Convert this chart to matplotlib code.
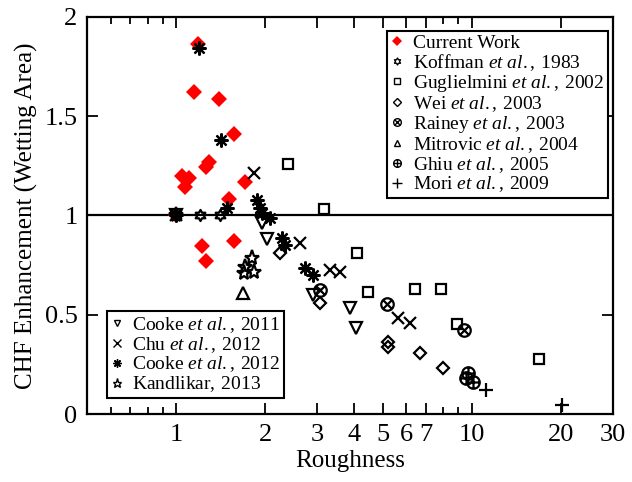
import numpy as np
import matplotlib
matplotlib.use('Agg')
import matplotlib.pyplot as plt
from matplotlib.path import Path
from matplotlib.lines import Line2D
from matplotlib.ticker import FixedLocator, FixedFormatter, NullFormatter

plt.rcParams['font.family'] = 'Liberation Serif'
plt.rcParams['mathtext.fontset'] = 'custom'
plt.rcParams['mathtext.rm'] = 'Liberation Serif'
plt.rcParams['mathtext.it'] = 'Liberation Serif:italic'

# roughness ratio vs. CHF enhancement, normalised by wetted area
current_x = [1.0, 1.187, 1.151, 1.399, 1.573, 1.294, 1.264, 1.048, 1.107, 1.073,
             1.714, 1.512, 1.225, 1.573, 1.264]
current_y = [1.0, 1.864, 1.622, 1.587, 1.411, 1.270, 1.244, 1.199, 1.189, 1.144,
             1.169, 1.083, 0.846, 0.872, 0.771]

koffman_x = [1.0, 1.206, 1.41]
koffman_y = [1.0, 1.003, 1.003]

guglielmini_x = [2.38, 3.17, 4.10, 4.44, 6.41, 7.86, 8.91, 16.9]
guglielmini_y = [1.258, 1.035, 0.811, 0.614, 0.630, 0.630, 0.453, 0.277]

wei_x = [2.235, 3.075, 5.19, 5.19, 6.66, 7.97]
wei_y = [0.811, 0.559, 0.363, 0.338, 0.307, 0.232]

rainey_x = [3.075, 5.15, 9.39]
rainey_y = [0.625, 0.554, 0.423]

mitrovic_x = [1.686]
mitrovic_y = [0.610]

ghiu_x = [9.69, 9.55, 10.08]
ghiu_y = [0.207, 0.181, 0.161]

mori_x = [11.12, 20.2]
mori_y = [0.121, 0.045]

cooke11_x = [1.0, 1.957, 2.034, 2.891, 3.86, 4.05]
cooke11_y = [1.0, 0.962, 0.882, 0.600, 0.534, 0.433]

chu_x = [1.0, 1.839, 2.63, 3.30, 3.57, 5.62, 6.16]
chu_y = [1.0, 1.214, 0.861, 0.725, 0.715, 0.484, 0.458]

cooke12_x = [1.0, 1.197, 1.421, 1.489, 1.881, 1.926, 1.957, 2.082, 2.287, 2.34,
             2.735, 2.891]
cooke12_y = [1.0, 1.844, 1.380, 1.038, 1.078, 1.038, 1.013, 0.987, 0.887, 0.851,
             0.736, 0.700]

kandlikar_x = [1.0, 1.81, 1.714, 1.839, 1.70]
kandlikar_y = [1.0, 0.786, 0.741, 0.715, 0.710]


def hexagram():
    ang = np.deg2rad(90 + 30 * np.arange(12))
    r = np.where(np.arange(12) % 2 == 0, 1.0, 1 / np.sqrt(3))
    verts = np.column_stack([r * np.cos(ang), r * np.sin(ang)])
    verts = np.vstack([verts, verts[:1]])
    return Path(verts, closed=True)


def circle_with(cross):
    d = 0.707 if cross else 1.0
    if cross:
        lines = [[(-d, -d), (d, d)], [(-d, d), (d, -d)]]
    else:
        lines = [[(-d, 0), (d, 0)], [(0, -d), (0, d)]]
    parts = [Path.unit_circle()]
    for seg in lines:
        parts.append(Path(seg, [Path.MOVETO, Path.LINETO]))
    return Path.make_compound_path(*parts)


def lab(name, year, etal=True):
    if etal:
        return r'$\mathrm{%s}\ \mathit{et\ al.}\mathrm{,\:%s}$' % (name, year)
    return r'$\mathrm{%s,\:%s}$' % (name, year)


# (label, marker, size in plot, size in legend, x, y)
series = [
    (lab('Koffman', 1983), hexagram(), 8, 5, koffman_x, koffman_y),
    (lab('Guglielmini', 2002), 's', 7, 4.5, guglielmini_x, guglielmini_y),
    (lab('Wei', 2003), 'D', 6.5, 4.5, wei_x, wei_y),
    (lab('Rainey', 2003), circle_with(True), 9, 5.5, rainey_x, rainey_y),
    (lab('Mitrovic', 2004), '^', 8, 5, mitrovic_x, mitrovic_y),
    (lab('Ghiu', 2005), circle_with(False), 9, 5.5, ghiu_x, ghiu_y),
    (lab('Mori', 2009), '+', 10, 6.5, mori_x, mori_y),
    (lab('Cooke', 2011), 'v', 8, 5, cooke11_x, cooke11_y),
    (lab('Chu', 2012), 'x', 9, 5.5, chu_x, chu_y),
    (lab('Cooke', 2012), (8, 2, 0), 10, 6, cooke12_x, cooke12_y),
    (lab('Kandlikar', 2013, etal=False), '*', 11, 6.5, kandlikar_x, kandlikar_y),
]

fig = plt.figure(figsize=(6.32, 4.82), dpi=100)
ax = fig.add_axes([0.138, 0.141, 0.832, 0.824])

ax.axhline(1, color='black', lw=1.6, zorder=1)

ax.plot(current_x, current_y, 'D', color='red', ms=8, mew=0, linestyle='none')
handles = [Line2D([], [], marker='D', color='red', ms=5, mew=0,
                  linestyle='none', label='Current Work')]
for label, marker, ms, ms_leg, xs, ys in series:
    ax.plot(xs, ys, marker=marker, linestyle='none', color='black', mfc='none',
            mew=1.6, ms=ms)
    handles.append(Line2D([], [], marker=marker, linestyle='none', color='black',
                          mfc='none', mew=1.0, ms=ms_leg, label=label))

ax.set_xscale('log')
ax.set_xlim(0.5, 30)
ax.set_ylim(0, 2)

major = [1, 2, 3, 4, 5, 6, 7, 10, 20, 30]
ax.xaxis.set_major_locator(FixedLocator(major))
ax.xaxis.set_major_formatter(FixedFormatter([str(v) for v in major]))
ax.xaxis.set_minor_locator(FixedLocator([0.6, 0.7, 0.8, 0.9, 8, 9]))
ax.xaxis.set_minor_formatter(NullFormatter())
ax.set_yticks([0, 0.5, 1, 1.5, 2])
ax.set_yticklabels(['0', '0.5', '1', '1.5', '2'])

ax.tick_params(which='both', direction='in', top=True, right=True,
               labelsize=19, width=1.3, pad=7)
ax.tick_params(which='major', length=8)
ax.tick_params(which='minor', length=5)
for s in ax.spines.values():
    s.set_linewidth(1.6)

ax.set_xlabel('Roughness', fontsize=18, labelpad=3)
ax.set_ylabel('CHF Enhancement (Wetting Area)', fontsize=18, labelpad=5)

leg_kw = dict(prop={'size': 14}, frameon=True, fancybox=False,
              edgecolor='black', framealpha=1, handlelength=0.6,
              handletextpad=0.5, labelspacing=0.0, borderpad=0.2,
              borderaxespad=0)
leg1 = ax.legend(handles=handles[:8], loc='upper right',
                 bbox_to_anchor=(0.99, 0.965), **leg_kw)
leg1.get_frame().set_linewidth(1.5)
ax.add_artist(leg1)
leg2 = ax.legend(handles=handles[8:], loc='lower left',
                 bbox_to_anchor=(0.038, 0.04), **leg_kw)
leg2.get_frame().set_linewidth(1.5)

fig.savefig('out.png', dpi=100)
